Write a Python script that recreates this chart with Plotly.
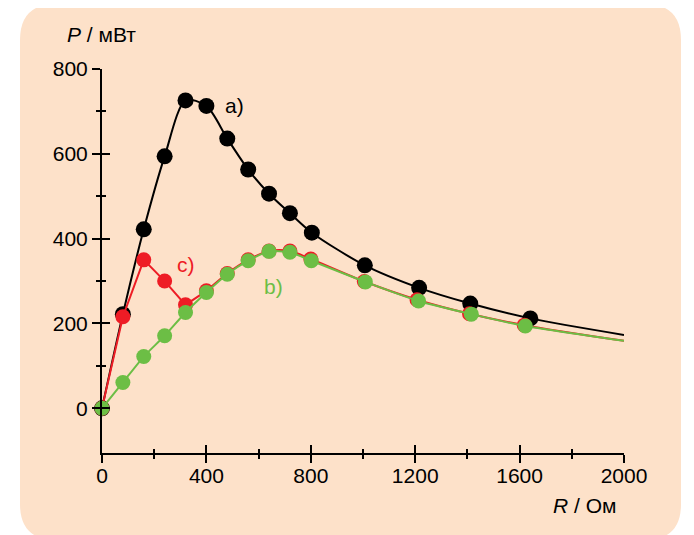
import plotly.graph_objects as go

# ---- data ----
R_a = [0, 80, 160, 240, 320, 400, 480, 560, 640, 720, 804, 1007, 1215, 1411, 1641]
P_a = [0, 222, 422, 594, 726, 713, 636, 563, 506, 460, 414, 337, 284, 247, 212]

R_c = [0, 80, 160, 240, 320, 400, 480, 560, 640, 720, 800, 1005, 1207, 1408, 1618]
P_c = [0, 216, 350, 300, 244, 277, 318, 350, 371, 371, 352, 299, 256, 223, 196]

R_b = [0, 80, 160, 240, 320, 400, 480, 560, 640, 720, 802, 1009, 1213, 1415, 1622]
P_b = [0, 61, 122, 171, 226, 273, 316, 348, 370, 368, 348, 298, 253, 222, 194]

# curve continuations at the right end of the axis
R_end = 2000
P_a_end = 173
P_bc_end = 159

x_ticks = [0, 400, 800, 1200, 1600, 2000]
x_minor = [200, 600, 1000, 1400, 1800]
y_ticks = [0, 200, 400, 600, 800]
y_minor = [100, 300, 500, 700]

BLACK = "#000000"
RED = "#EE1C25"
GREEN = "#6CBE45"
PEACH = "#FDE1C9"
FONT = "Liberation Sans, Arial, sans-serif"

fig = go.Figure()

# a) black
fig.add_trace(go.Scatter(x=R_a + [R_end], y=P_a + [P_a_end], mode="lines",
                         line=dict(color=BLACK, width=2, shape="spline", smoothing=0.8),
                         cliponaxis=False, hoverinfo="skip"))
fig.add_trace(go.Scatter(x=R_a, y=P_a, mode="markers",
                         marker=dict(color=BLACK, size=16), cliponaxis=False))

# c) red
fig.add_trace(go.Scatter(x=R_c[:6], y=P_c[:6], mode="lines",
                         line=dict(color=RED, width=2), cliponaxis=False, hoverinfo="skip"))
fig.add_trace(go.Scatter(x=R_c[5:] + [R_end], y=P_c[5:] + [P_bc_end], mode="lines",
                         line=dict(color=RED, width=2, shape="spline", smoothing=0.8),
                         cliponaxis=False, hoverinfo="skip"))
fig.add_trace(go.Scatter(x=R_c, y=P_c, mode="markers",
                         marker=dict(color=RED, size=15), cliponaxis=False))

# b) green
fig.add_trace(go.Scatter(x=R_b + [R_end], y=P_b + [P_bc_end], mode="lines",
                         line=dict(color=GREEN, width=2, shape="spline", smoothing=0.6),
                         cliponaxis=False, hoverinfo="skip"))
fig.add_trace(go.Scatter(x=R_b, y=P_b, mode="markers",
                         marker=dict(color=GREEN, size=15), cliponaxis=False))

# empty trace to host the overlay axes (inner halves of the crossing ticks)
fig.add_trace(go.Scatter(x=[], y=[], xaxis="x2", yaxis="y2", showlegend=False))

# page has an 8px body margin; figure is sized so the plot area lands where the reference has it
OFF = 8
W, H = 686, 527
ML, MR, MT, MB = 94, 70, 61, 82
PW, PH = W - ML - MR, H - MT - MB


def px(xp):  # page pixel -> paper x
    return (xp - OFF - ML) / PW


def py(yp):  # page pixel -> paper y
    return (OFF + H - MB - yp) / PH


L, Rr, T, B, r = 20, 681, 4, 540, 36
path = (f"M {px(L + r)},{py(T)} L {px(Rr - r)},{py(T)} Q {px(Rr)},{py(T)} {px(Rr)},{py(T + r)} "
        f"L {px(Rr)},{py(B - r)} Q {px(Rr)},{py(B)} {px(Rr - r)},{py(B)} "
        f"L {px(L + r)},{py(B)} Q {px(L)},{py(B)} {px(L)},{py(B - r)} "
        f"L {px(L)},{py(T + r)} Q {px(L)},{py(T)} {px(L + r)},{py(T)} Z")

xr = [0, 2000]
yr = [-105.4, 800]
tickfont = dict(family=FONT, size=21, color="black")

fig.update_layout(
    width=W, height=H,
    margin=dict(l=ML, r=MR, t=MT, b=MB),
    paper_bgcolor="white", plot_bgcolor="rgba(0,0,0,0)",
    showlegend=False,
    shapes=[dict(type="path", path=path, xref="paper", yref="paper",
                 fillcolor=PEACH, line=dict(width=0), layer="below")],
    xaxis=dict(range=xr, tickmode="array", tickvals=x_ticks, ticktext=[str(v) for v in x_ticks],
               ticks="outside", ticklen=8, tickwidth=2, tickcolor="black",
               minor=dict(tickmode="array", tickvals=x_minor, ticks="outside", ticklen=4,
                          tickwidth=1.5, tickcolor="black"),
               showline=True, linewidth=2, linecolor="black", ticklabelstandoff=-5,
               showgrid=False, zeroline=False, tickfont=tickfont, fixedrange=True),
    xaxis2=dict(range=xr, overlaying="x", anchor="y", side="bottom",
                tickmode="array", tickvals=x_ticks, ticks="inside", ticklen=8, tickwidth=2,
                tickcolor="black",
                minor=dict(tickmode="array", tickvals=x_minor, ticks="inside", ticklen=4,
                           tickwidth=1.5, tickcolor="black"),
                showticklabels=False, showline=False, showgrid=False, zeroline=False),
    yaxis=dict(range=yr, tickmode="array", tickvals=y_ticks, ticktext=[str(v) for v in y_ticks],
               ticks="outside", ticklen=8, tickwidth=2, tickcolor="black",
               minor=dict(tickmode="array", tickvals=y_minor, ticks="outside", ticklen=4,
                          tickwidth=1.5, tickcolor="black"),
               showline=True, linewidth=2, linecolor="black",
               showgrid=False, zeroline=False, tickfont=tickfont, fixedrange=True),
    yaxis2=dict(range=yr, overlaying="y", anchor="x", side="left",
                tickmode="array", tickvals=y_ticks, ticks="inside", ticklen=8, tickwidth=2,
                tickcolor="black",
                minor=dict(tickmode="array", tickvals=y_minor, ticks="inside", ticklen=4,
                           tickwidth=1.5, tickcolor="black"),
                showticklabels=False, showline=False, showgrid=False, zeroline=False),
    annotations=[
        dict(text="<i>P</i> / мВт", xref="paper", yref="paper", x=px(101), y=py(34),
             xanchor="center", yanchor="middle", showarrow=False,
             font=dict(family=FONT, size=21, color="black")),
        dict(text="<i>R</i> / Ом", xref="paper", yref="paper", x=px(618), y=py(505),
             xanchor="right", yanchor="middle", showarrow=False,
             font=dict(family=FONT, size=21, color="black")),
        dict(text="a)", x=507, y=713, xref="x", yref="y", showarrow=False,
             font=dict(family=FONT, size=21, color=BLACK)),
        dict(text="c)", x=323, y=340, xref="x", yref="y", showarrow=False,
             font=dict(family=FONT, size=21, color=RED)),
        dict(text="b)", x=656, y=288, xref="x", yref="y", showarrow=False,
             font=dict(family=FONT, size=21, color=GREEN)),
    ],
)

fig.write_html("out.html")
